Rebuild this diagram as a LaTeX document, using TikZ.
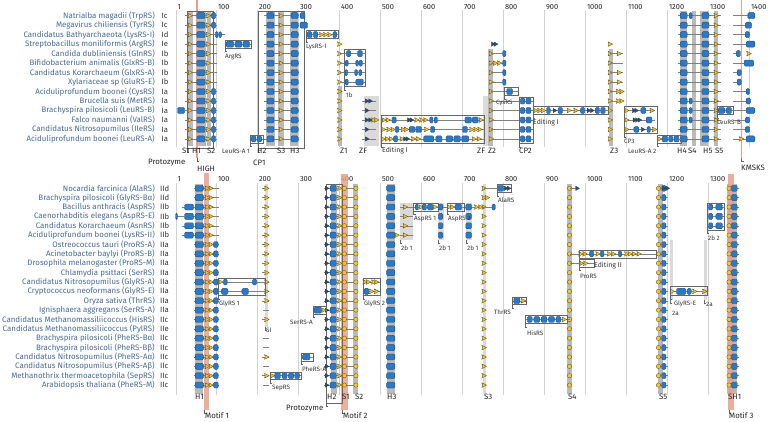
\documentclass[tikz,border=0pt]{standalone}
\usepackage{fontspec}
\setmainfont{Fira Sans}
\definecolor{hblue}{HTML}{2B78C5}
\definecolor{hdark}{HTML}{1F4F7F}
\definecolor{syel}{HTML}{F2C53D}
\definecolor{sdark}{HTML}{6A5614}
\definecolor{pinkm}{HTML}{E9A08C}
\definecolor{colg}{HTML}{BABABA}
\definecolor{colgl}{HTML}{DADADA}
\definecolor{gridc}{HTML}{D2D2D2}
\definecolor{namec}{HTML}{4A6C99}
\newcommand\mkH[3]{\draw[helix] (#1,#3-0.32) rectangle (#2,#3+0.32);}
\newcommand\mkS[2]{\draw[strand] (#1,#2) +(-2.1pt,2.4pt) -- +(2.7pt,0pt) -- +(-2.1pt,-2.4pt) -- +(-1.2pt,0pt) -- cycle;}
\newcommand\mkD[2]{\draw[dstr] (#1,#2) +(-1.6pt,2.2pt) -- +(2.2pt,0pt) -- +(-1.6pt,-2.2pt) -- cycle;}
\newcommand\mkC[2]{\draw[strand] (#1,#2) circle[radius=2.2pt];}
\newcommand\mkL[3]{\draw[bb] (#1,#3) -- (#2,#3);}
\newcommand\mkB[4]{\draw[ibox] (#1,#3) rectangle (#2,#4); \draw[tickm] (#1,#4) -- ++(0pt,-3.5pt) -- ++(2.2pt,0pt);}
\begin{document}
\begin{tikzpicture}[x=1pt,y=-1pt,
 helix/.style={fill=hblue,draw=hdark,line width=0.35pt,rounded corners=1.2pt},
 strand/.style={fill=syel,draw=sdark,line width=0.35pt,line join=round},
 dstr/.style={fill=hdark,draw=black!75,line width=0.3pt,line join=round},
 bb/.style={draw=black!50,line width=0.45pt},
 ibox/.style={draw=black!60,line width=0.5pt},
 tickm/.style={draw=black!60,line width=0.4pt},
 gridl/.style={draw=gridc,line width=0.7pt},
 alab/.style={font=\fontsize{7.4}{8}\selectfont,inner sep=0pt,anchor=west,text=black!85},
 clab/.style={font=\fontsize{7.8}{8}\selectfont,inner sep=0pt,anchor=west,text=black!85},
 flab/.style={font=\fontsize{6.3}{7}\selectfont,inner sep=0pt,anchor=west,text=black!80},
 spn/.style={font=\fontsize{7.9}{8}\selectfont,inner sep=0pt,anchor=east,text=namec},
 cln/.style={font=\fontsize{7.7}{8}\selectfont,inner sep=0pt,anchor=west,text=black!80}]
\useasboundingbox (0,0) rectangle (770,422);
\fill[white] (0,0) rectangle (770,422);

% ---------------- grid lines ----------------
\draw[gridl] (176,10) -- (176,147);
\draw[gridl] (176,183) -- (176,395);
\node[alab] (ax1) at (177.5,7) {1};
\node[alab] (bx1) at (177.5,179) {1};
\foreach \n in {100,200,...,1400} {
  \draw[gridl] ({175.5+0.41*\n},10) -- ({175.5+0.41*\n},147);
  \node[alab] (ax\n) at ({176.8+0.41*\n},7) {\n};
}
\foreach \n in {100,200,...,1300} {
  \draw[gridl] ({175.5+0.41*\n},183) -- ({175.5+0.41*\n},395);
  \node[alab] (bx\n) at ({176.8+0.41*\n},179) {\n};
}

% ---------------- gray columns ----------------
\foreach \a/\b/\ya/\yb/\c in {188/193/11/146/colg, 197/206/11/146/colg, 207/211/11/146/colg,
  266/275/11/146/colg, 278/284/11/146/colg, 290/298/11/146/colg, 338/342/86/146/colg,
  364/379/96/146/colgl, 483/488/96/146/colgl, 488/493/49/146/colg, 609/613/49/146/colg,
  680/687/11/146/colg, 692/696/11/146/colg, 700/708/11/146/colg, 714/718/11/146/colg,
  195/203/184/394/colg, 265/268/184/327/colgl, 331/337/184/394/colg, 353/358/184/394/colg,
  387/395/184/394/colg, 400/413/203/240/colgl, 438/444/203/240/colgl, 466/472/203/240/colgl,
  483/486/184/394/colgl, 567/572/184/394/colg, 658/663/184/394/colg, 670/673/240/300/colgl,
  704/707/240/300/colgl, 727/737/184/394/colg}
  {\fill[\c] (\a,\ya) rectangle (\b,\yb);}

% ---------------- motif strips ----------------
\fill[pinkm] (195.8,0) rectangle (197.6,158);
\fill[pinkm] (740.6,0) rectangle (742.4,158);
\fill[pinkm,opacity=0.85] (203.5,173) rectangle (209,410);
\fill[pinkm,opacity=0.85] (341,174) rectangle (348,410);
\fill[pinkm,opacity=0.85] (728,174) rectangle (734,410);
\draw[tickm] (196.7,158) -- (196.7,161) -- (198.9,161);
\draw[tickm] (741.5,158) -- (741.5,161) -- (743.7,161);
\draw[tickm] (204,410) -- (204,413) -- (206.2,413);
\draw[tickm] (342,410) -- (342,413) -- (344.2,413);
\draw[tickm] (729,410) -- (729,413) -- (731.2,413);

% ---------------- big boxes ----------------
\draw[ibox] (187,11) rectangle (213,148);
\draw[tickm] (187,148) -- (187,152) -- (189.2,152);
\draw[ibox] (258,11) rectangle (304,148);
\draw[tickm] (258,148) -- (258,152) -- (260.2,152);
\draw[ibox] (326,184) rectangle (342,403);
\draw[tickm] (326,403) -- (326,406) -- (328.2,406);

% ================= TOP PANEL (class I) =================
\begin{scope}[xshift=175.5pt,yshift=-15.7pt,x=0.41pt,y=-9.48pt]
\foreach \r in {0,...,13}{
  \mkL{22}{100}{\r}
  \mkL{215}{302}{\r}
  \mkL{1225}{1330}{\r}
  \mkS{35}{\r}
  \mkH{52}{72}{\r}
  \mkS{80}{\r}
  \mkH{223}{240}{\r}
  \mkS{257}{\r}
  \mkH{282}{299}{\r}
  \mkH{1231}{1248}{\r}
  \mkH{1284}{1301}{\r}
  \mkS{1318}{\r}
}
\foreach \r in {0,1,8,9,10,11,12,13} {\mkH{88}{98}{\r}}
\mkH{304}{316}{0} \mkH{304}{322}{1}
% LysRS-I
\mkL{97}{120}{2} \mkH{97}{104}{2} \mkH{106}{112}{2}
\mkL{318}{396}{2}
\mkH{321}{333}{2} \mkH{336}{347}{2} \mkS{356}{2} \mkS{366}{2} \mkS{376}{2} \mkH{384}{393}{2}
\mkB{318}{396}{1.58}{2.42}
% ArgRS
\mkL{121}{184}{3}
\mkH{124}{142}{3} \mkH{145}{162}{3} \mkH{165}{181}{3}
\mkB{121}{184}{2.58}{3.42}
% LeuRS-B N-term
\mkH{5}{22}{10}
% Z1
\foreach \r in {3,...,13} {\mkS{400}{\r}}
% 1b
\foreach \r in {4,...,7} {\mkL{400}{462}{\r}}
\mkH{417}{427}{4} \mkH{444}{456}{4}
\mkH{414}{421}{5} \mkH{440}{446}{5} \mkH{448}{456}{5}
\mkH{413}{420}{6} \mkH{437}{444}{6} \mkH{447}{454}{6}
\mkH{414}{421}{7} \mkH{440}{458}{7}
\mkB{411}{462}{3.55}{7.45}
% ZF
\foreach \r in {9,...,13} {\mkL{455}{490}{\r} \mkD{467}{\r}}
\mkD{475}{11} \mkS{483}{11} \mkS{490}{11} \mkD{475}{9}
% Editing I (rows 11-13)
\foreach \r in {11,12,13} {\mkL{501}{752}{\r}}
\mkS{508}{11} \mkS{518}{11} \mkH{528}{538}{11} \mkD{570}{11} \mkD{576}{11} \mkS{588}{11} \mkS{600}{11} \mkS{610}{11} \mkH{620}{628}{11} \mkH{631}{639}{11} \mkH{706}{722}{11} \mkH{724}{738}{11} \mkS{745}{11}
\mkS{507}{12} \mkS{520}{12} \mkS{530}{12} \mkH{536}{545}{12} \mkS{555}{12} \mkS{563}{12} \mkH{570}{584}{12} \mkH{586}{600}{12} \mkS{612}{12} \mkH{622}{632}{12} \mkH{700}{712}{12} \mkS{722}{12} \mkS{732}{12} \mkS{742}{12}
\mkS{506}{13} \mkS{516}{13} \mkS{526}{13} \mkH{532}{542}{13} \mkS{552}{13} \mkD{560}{13} \mkD{566}{13} \mkS{580}{13} \mkS{592}{13} \mkH{605}{630}{13} \mkH{635}{650}{13} \mkH{660}{676}{13} \mkH{679}{695}{13} \mkH{698}{715}{13} \mkS{728}{13} \mkS{740}{13}
\mkB{501}{752}{10.55}{13.45}
% Z2
\mkD{774}{3} \mkD{781}{3}
\foreach \r in {4,...,13} {\mkS{770}{\r}}
\foreach \r in {4,...,7} {\mkL{770}{806}{\r} \mkH{798}{806}{\r}}
\mkS{780}{5} \mkS{790}{5}
% CysRS
\mkL{770}{835}{8} \mkH{808}{822}{8} \mkB{801}{835}{7.58}{8.42}
% CP2
\foreach \r in {9,...,13} {\mkL{770}{872}{\r} \mkH{841}{852}{\r} \mkH{855}{867}{\r}}
\mkB{838}{872}{8.55}{13.45}
% Editing I (LeuRS-B)
\mkL{872}{1060}{10}
\mkS{878}{10} \mkS{888}{10} \mkS{897}{10} \mkH{905}{914}{10} \mkD{925}{10} \mkH{933}{944}{10} \mkS{960}{10} \mkS{976}{10} \mkH{988}{998}{10} \mkD{1008}{10} \mkD{1016}{10} \mkH{1024}{1034}{10} \mkH{1037}{1048}{10}
\mkB{872}{1055}{9.58}{10.42}
% Z3
\foreach \r in {3,...,13} {\mkS{1060}{\r}}
\foreach \r in {4,...,9} {\mkL{1060}{1092}{\r}}
\mkS{1082}{4} \mkS{1082}{6} \mkS{1082}{7} \mkS{1080}{8} \mkS{1088}{8} \mkS{1080}{9} \mkS{1088}{9}
% CP3
\foreach \r in {10,11,12} {\mkL{1094}{1170}{\r}}
\mkS{1100}{10} \mkD{1118}{10} \mkD{1124}{10} \mkH{1135}{1147}{10} \mkS{1162}{10}
\mkS{1100}{11} \mkD{1120}{11} \mkD{1126}{11} \mkD{1132}{11} \mkH{1148}{1162}{11}
\mkS{1100}{12} \mkH{1118}{1130}{12} \mkD{1140}{12} \mkH{1150}{1158}{12} \mkS{1168}{12}
\mkB{1094}{1174}{9.55}{12.45}
% LeuRS-A 1 and 2
\mkL{182}{213}{13} \mkH{185}{196}{13} \mkH{199}{210}{13} \mkB{182}{213}{12.58}{13.42}
\mkL{1174}{1233}{13} \mkS{1180}{13} \mkH{1187}{1200}{13} \mkH{1203}{1213}{13} \mkH{1216}{1228}{13}
\mkB{1174}{1233}{12.58}{13.42}
% S4 small
\foreach \r in {0,9,10,11} {\mkH{1253}{1260}{\r}}
% LeuRS-B C-term box
\mkL{1321}{1360}{10} \mkH{1324}{1340}{10} \mkH{1343}{1356}{10} \mkB{1321}{1360}{9.58}{10.42}
% C-terminal ends
\foreach \r/\a/\b in {0/1396/1413, 1/1390/1405, 2/1390/1400, 3/1392/1413, 4/1368/1378, 5/1387/1410,
  6/1370/1380, 7/1370/1380, 8/1392/1400, 9/1392/1402, 10/1392/1413, 11/1390/1400, 12/1390/1400, 13/1392/1413}
  {\mkL{1360}{\b}{\r} \mkH{\a}{\b}{\r}}
\mkS{1398}{4} \mkS{1380}{13}
\end{scope}

% ================= BOTTOM PANEL (class II) =================
\begin{scope}[xshift=175.5pt,yshift=-188.3pt,x=0.41pt,y=-9.37pt]
\foreach \r in {0,...,21}{
  \mkL{45}{105}{\r}
  \mkH{48}{68}{\r}
  \mkS{77}{\r}
  \mkS{86}{\r}
  \mkL{362}{442}{\r}
  \mkD{369}{\r}
  \mkH{377}{392}{\r}
  \mkS{400}{\r}
  \mkC{412}{\r}
  \mkC{440}{\r}
  \mkH{515}{535}{\r}
  \mkS{752}{\r}
  \mkC{961}{\r}
  \mkL{1174}{1200}{\r}
  \mkC{1178}{\r}
  \mkH{1186}{1196}{\r}
  \mkL{1345}{1375}{\r}
  \mkC{1350}{\r}
  \mkH{1356}{1370}{\r}
}
\foreach \r in {2,...,5} {\mkL{15}{48}{\r} \mkH{22}{44}{\r}}
\mkL{0}{22}{3} \mkH{0}{5}{3}
\foreach \r in {6,...,21} {\mkH{93}{104}{\r}}
% SI
\foreach \r in {0,...,12,14,18,20} {\mkL{212}{228}{\r} \mkS{222}{\r}}
\foreach \r in {13,16,17,19,21} {\mkL{214}{228}{\r}}
% GlyRS 1
\mkL{104}{218}{10} \mkS{110}{10} \mkH{117}{126}{10} \mkH{188}{198}{10}
\mkL{104}{218}{11} \mkH{112}{128}{11} \mkH{162}{178}{11}
\mkB{104}{218}{9.55}{11.45}
% SepRS / PheRS-A / SerRS-A
\mkL{230}{306}{20} \mkS{236}{20} \mkH{242}{256}{20} \mkH{260}{272}{20} \mkH{276}{288}{20} \mkH{291}{302}{20}
\mkB{230}{306}{19.58}{20.42}
\mkL{306}{335}{18} \mkH{310}{328}{18} \mkB{306}{335}{17.58}{18.42}
\mkL{335}{367}{13} \mkH{338}{356}{13} \mkS{361}{13} \mkB{335}{367}{12.58}{13.42}
% GlyRS 2
\mkL{457}{499}{10} \mkS{462}{10} \mkS{470}{10} \mkS{483}{10} \mkS{490}{10}
\mkL{457}{499}{11} \mkH{460}{472}{11} \mkS{478}{11} \mkS{490}{11}
\mkB{457}{499}{9.55}{11.45}
% 2b 1 and AspRS insertions
\foreach \r in {2,...,5} {\mkL{548}{580}{\r} \mkS{560}{\r}}
\mkS{540}{5}
\mkL{580}{780}{2}
\mkH{585}{592}{2} \mkS{598}{2} \mkH{602}{612}{2} \mkH{615}{628}{2} \mkS{633}{2}
\mkB{580}{640}{1.58}{2.42}
\mkS{667}{2} \mkS{675}{2} \mkH{682}{698}{2}
\mkB{662}{705}{1.58}{2.42}
\foreach \r in {2,...,5} {\mkH{641}{652}{\r} \mkH{708}{722}{\r}}
\mkS{734}{2} \mkS{744}{2} \mkH{772}{780}{2}
\mkS{760}{1}
% AlaRS
\mkL{752}{820}{0} \mkH{786}{800}{0} \mkD{806}{0} \mkD{813}{0}
\mkB{784}{820}{-0.42}{0.42}
\mkL{961}{985}{0} \mkD{980}{0} \mkD{1192}{0} \mkD{1200}{0}
% ThrRS / HisRS
\mkL{821}{855}{12} \mkH{825}{840}{12} \mkS{848}{12} \mkB{821}{855}{11.58}{12.42}
\mkL{853}{961}{14} \mkH{858}{870}{14} \mkH{874}{888}{14} \mkH{892}{906}{14} \mkH{910}{924}{14} \mkH{928}{940}{14} \mkS{948}{14}
\mkB{853}{955}{13.58}{14.42}
% Editing II / ProRS
\mkL{961}{1172}{7} \mkS{988}{7} \mkS{998}{7} \mkH{1010}{1020}{7} \mkS{1030}{7} \mkH{1036}{1045}{7} \mkS{1058}{7} \mkS{1068}{7} \mkH{1080}{1088}{7} \mkS{1100}{7} \mkS{1108}{7} \mkS{1118}{7} \mkS{1130}{7}
\mkB{984}{1172}{6.58}{7.42}
\mkL{961}{1021}{8} \mkS{990}{8} \mkS{1000}{8}
\mkB{984}{1021}{7.58}{8.42}
% GlyRS-E
\mkL{1206}{1296}{11} \mkS{1211}{11} \mkH{1222}{1245}{11} \mkH{1248}{1258}{11} \mkS{1266}{11} \mkS{1290}{11}
\mkB{1206}{1296}{10.45}{11.45}
% 2b 2
\foreach \r in {2,3,4} {\mkL{1297}{1338}{\r} \mkH{1300}{1310}{\r} \mkH{1318}{1334}{\r}}
\mkB{1297}{1338}{1.55}{4.45}
\end{scope}

% ---------------- species labels ----------------
\foreach \i/\nm/\cl in {0/Natrialba magadii (TrpRS)/Ic, 1/Megavirus chiliensis (TyrRS)/Ic,
  2/Candidatus Bathyarchaeota (LysRS-I)/Id, 3/Streptobacillus moniliformis (ArgRS)/Ie,
  4/Candida dubliniensis (GlnRS)/Ib, 5/Bifidobacterium animalis (GlxRS-B)/Ib,
  6/Candidatus Korarchaeum (GlxRS-A)/Ib, 7/Xylariaceae sp (GluRS-E)/Ib,
  8/Aciduliprofundum boonei (CysRS)/Ia, 9/Brucella suis (MetRS)/Ia,
  10/Brachyspira pilosicoli (LeuRS-B)/Ia, 11/Falco naumanni (ValRS)/Ia,
  12/Candidatus Nitrosopumilus (IleRS)/Ia, 13/Aciduliprofundum boonei (LeuRS-A)/Ia}
{ \node[spn] (ts\i) at (155,{15.7+9.48*\i}) {\nm};
  \node[cln] (tc\i) at (161.5,{15.7+9.48*\i}) {\cl}; }
\foreach \i/\nm/\cl in {0/Nocardia farcinica (AlaRS)/IId, 1/Brachyspira pilosicoli (GlyRS-Bα)/IId,
  2/Bacillus anthracis (AspRS)/IIb, 3/Caenorhabditis elegans (AspRS-E)/IIb,
  4/Candidatus Korarchaeum (AsnRS)/IIb, 5/Aciduliprofundum boonei (LysRS-II)/IIb,
  6/Ostreococcus tauri (ProRS-A)/IIa, 7/Acinetobacter baylyi (ProRS-B)/IIa,
  8/Drosophila melanogaster (ProRS-M)/IIa, 9/Chlamydia psittaci (SerRS)/IIa,
  10/Candidatus Nitrosopumilus (GlyRS-A)/IIa, 11/Cryptococcus neoformans (GlyRS-E)/IIa,
  12/Oryza sativa (ThrRS)/IIa, 13/Ignisphaera aggregans (SerRS-A)/IIa,
  14/Candidatus Methanomassiliicoccus (HisRS)/IIc, 15/Candidatus Methanomassiliicoccus (PylRS)/IIe,
  16/Brachyspira pilosicoli (PheRS-Bα)/IIc, 17/Brachyspira pilosicoli (PheRS-Bβ)/IIc,
  18/Candidatus Nitrosopumilus (PheRS-Aα)/IIc, 19/Candidatus Nitrosopumilus (PheRS-Aβ)/IIc,
  20/Methanothrix thermoacetophila (SepRS)/IIc, 21/Arabidopsis thaliana (PheRS-M)/IIc}
{ \node[spn] (bs\i) at (155,{188.3+9.37*\i}) {\nm};
  \node[cln] (bc\i) at (160,{188.3+9.37*\i}) {\cl}; }

% ---------------- element labels (top) ----------------
\foreach \x/\t/\k in {182/S1/a, 192/H1/b, 207/S2/c, 257/H2/d, 277/S3/e, 290/H3/f, 340/Z1/g, 359/ZF/h,
  477/ZF/i, 488/Z2/j, 519/CP2/k, 610/Z3/l, 677/H4/m, 688/S4/n, 703/H5/o, 715/S5/p}
  {\node[clab] (tl\k) at (\x,151) {\t};}
\node[flab] (tLA1) at (222,151) {LeuRS-A 1};
\node[flab,font=\fontsize{6.9}{8}\selectfont] (tEd1) at (382,151) {Editing I};
\node[flab] (tLA2) at (628,151) {LeuRS-A 2};
\node[clab] (tProt) at (148,163) {Protozyme};
\node[clab] (tCP1) at (253,163) {CP1};
\node[clab] (tHIGH) at (197,169) {HIGH};
\node[clab] (tKMSKS) at (741,168) {KMSKS};
\node[flab] (tArg) at (225,57) {ArgRS};
\node[flab] (tLys) at (306,47) {LysRS-I};
\node[flab] (t1b) at (346,95) {1b};
\node[flab] (tCys) at (496,103) {CysRS};
\node[flab,font=\fontsize{6.9}{8}\selectfont] (tEd2) at (533,123) {Editing I};
\node[flab] (tCP3) at (624,141) {CP3};
\node[flab] (tLB) at (717,122) {LeuRS-B};

% ---------------- element labels (bottom) ----------------
\foreach \x/\t/\k in {195/H1/a, 327/H2/b, 342/S1/c, 355/S2/d, 387/H3/e, 484/S3/f, 568/S4/g, 659/S5/h, 728/SH1/i}
  {\node[clab] (bl\k) at (\x,397) {\t};}
\node[clab] (bM1) at (205,416) {Motif 1};
\node[clab] (bM2) at (343,416) {Motif 2};
\node[clab] (bM3) at (729,416) {Motif 3};
\node[clab] (bProt) at (286,409) {Protozyme};
\node[flab] (bSI) at (266,330) {SI};
\node[flab] (bG1) at (219,304) {GlyRS 1};
\node[flab] (bSerA) at (290,322) {SerRS-A};
\node[flab] (bPheA) at (302,369) {PheRS-A};
\node[flab] (bSep) at (272,388) {SepRS};
\node[flab] (bG2) at (364,304) {GlyRS 2};
\node[flab] (b2b1a) at (401,248) {2b 1};
\node[flab] (b2b1b) at (439,248) {2b 1};
\node[flab] (b2b1c) at (467,248) {2b 1};
\node[flab] (bAsp1) at (414,219) {AspRS 1};
\node[flab] (bAsp2) at (448,219) {AspRS 2};
\node[flab] (bAla) at (498,200) {AlaRS};
\node[flab] (bThr) at (494,312) {ThrRS};
\node[flab] (bHis) at (527,333) {HisRS};
\node[flab,font=\fontsize{6.9}{8}\selectfont] (bEd2) at (594,266) {Editing II};
\node[flab] (bPro) at (580,276) {ProRS};
\node[flab] (bGE) at (674,304) {GlyRS-E};
\node[flab] (b2aa) at (706,304) {2a};
\node[flab] (b2ab) at (672,313) {2a};
\node[flab] (b2b2) at (708,238) {2b 2};
\draw[tickm] (400,240) -- (400,243) -- (402.2,243);
\draw[tickm] (438,240) -- (438,243) -- (440.2,243);
\draw[tickm] (466,240) -- (466,243) -- (468.2,243);
\draw[tickm] (265,327) -- (265,330) -- (267.2,330);
\draw[tickm] (670,300) -- (670,303) -- (672.2,303);
\draw[tickm] (704,300) -- (704,303) -- (706.2,303);
\end{tikzpicture}
\end{document}
